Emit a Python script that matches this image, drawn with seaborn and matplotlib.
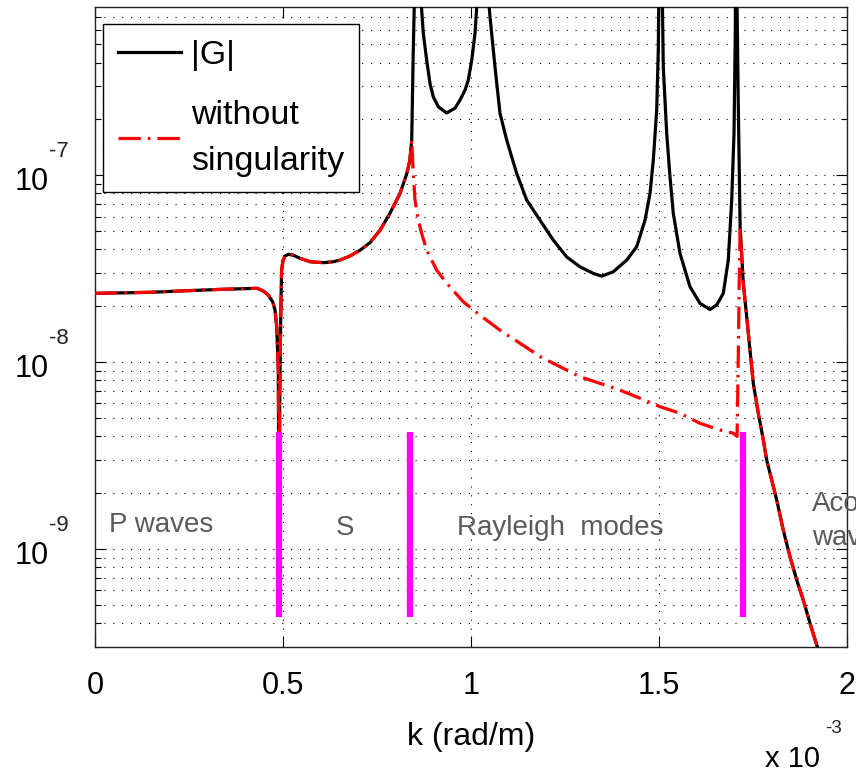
import numpy as np
import pandas as pd
import matplotlib
matplotlib.use("Agg")
import matplotlib.pyplot as plt
import seaborn as sns
from matplotlib.transforms import offset_copy
from matplotlib.ticker import LogLocator, NullFormatter, FixedLocator

# ---------------- data (k in 1e-3 rad/m) ----------------
# part shared by |G| and the curve without singularity
k_common = [0.000, 0.146, 0.250, 0.340, 0.431, 0.4475, 0.4607, 0.4724, 0.4785, 0.4831,
            0.4873, 0.4895, 0.491, 0.4935, 0.496, 0.500, 0.505, 0.514, 0.527, 0.545,
            0.572, 0.607, 0.634, 0.651, 0.678, 0.705, 0.731, 0.758, 0.784, 0.811,
            0.829, 0.837, 0.842]
v_common = [2.33e-8, 2.36e-8, 2.41e-8, 2.45e-8, 2.48e-8, 2.40e-8, 2.28e-8, 2.10e-8, 1.90e-8, 1.55e-8,
            9.06e-9, 1.0e-9, 6.0e-9, 1.6e-8, 3.1e-8, 3.5e-8, 3.69e-8, 3.77e-8, 3.73e-8, 3.59e-8,
            3.44e-8, 3.40e-8, 3.44e-8, 3.51e-8, 3.69e-8, 3.97e-8, 4.35e-8, 5.08e-8, 6.24e-8, 7.98e-8,
            1.02e-7, 1.20e-7, 1.54e-7]

# |G| between the first peak and k = 1.715
k_G_mid = [0.846, 0.851, 0.857, 0.863, 0.8685, 0.8728, 0.8818, 0.8906, 0.8994, 0.9127,
           0.935, 0.9571, 0.9704, 0.9837, 0.9924, 1.0015, 1.0103, 1.018, 1.024, 1.031,
           1.038, 1.044, 1.0501, 1.0634, 1.0767, 1.0945, 1.1211, 1.1477, 1.183, 1.2184,
           1.254, 1.2894, 1.3247, 1.3471, 1.3779, 1.4135, 1.4401, 1.4622, 1.4755, 1.4842,
           1.4933, 1.4975, 1.503, 1.5108, 1.5199, 1.5286, 1.5374, 1.5552, 1.5818, 1.6084,
           1.635, 1.6528, 1.6703, 1.6836, 1.6927, 1.6988, 1.7022, 1.7045, 1.707, 1.710]
G_mid = [4.5e-7, 1.3e-6, 5e-6, 1.5e-6, 7.62e-7, 5.73e-7, 4.12e-7, 3.09e-7, 2.62e-7, 2.32e-7,
         2.15e-7, 2.28e-7, 2.52e-7, 2.85e-7, 3.22e-7, 4.12e-7, 5.73e-7, 1.0e-6, 2.5e-6, 5e-6,
         2.5e-6, 1.0e-6, 7.03e-7, 3.79e-7, 2.14e-7, 1.54e-7, 1.02e-7, 7.35e-8, 5.74e-8, 4.49e-8,
         3.65e-8, 3.23e-8, 2.98e-8, 2.88e-8, 3.04e-8, 3.51e-8, 4.14e-8, 5.74e-8, 7.98e-8, 1.20e-7,
         2.23e-7, 4.66e-7, 5e-6, 3.79e-7, 1.67e-7, 9.80e-8, 6.24e-8, 3.81e-8, 2.53e-8, 2.06e-8,
         1.91e-8, 2.02e-8, 2.33e-8, 3.51e-8, 7.35e-8, 1.67e-7, 5.73e-7, 5e-6, 8e-7, 2.52e-7]

# curve without singularity between k = 0.842 and k = 1.715
k_ns_mid = [0.8462, 0.8507, 0.8595, 0.8685, 0.8818, 0.9084, 0.935, 0.9791, 1.0235, 1.0767,
            1.1299, 1.183, 1.2362, 1.2894, 1.3425, 1.3957, 1.4489, 1.502, 1.5552, 1.6084,
            1.6615, 1.6969, 1.707, 1.710, 1.7125]
ns_mid = [1.02e-7, 7.35e-8, 5.74e-8, 4.87e-8, 3.97e-8, 3.10e-8, 2.64e-8, 2.10e-8, 1.78e-8, 1.48e-8,
          1.26e-8, 1.07e-8, 9.44e-9, 8.34e-9, 7.69e-9, 7.08e-9, 6.40e-9, 5.77e-9, 5.32e-9, 4.70e-9,
          4.33e-9, 4.16e-9, 4.0e-9, 1.0e-8, 2.5e-8]

# shared tail (acoustic region)
k_tail = [1.715, 1.7235, 1.7325, 1.7413, 1.7501, 1.7634, 1.7767, 1.7857, 1.799, 1.8123,
          1.8298, 1.8476, 1.8654, 1.883, 1.9008, 1.9186, 1.935]
v_tail = [5.3e-8, 2.64e-8, 1.75e-8, 1.16e-8, 7.69e-9, 5.32e-9, 3.83e-9, 2.99e-9, 2.34e-9, 1.83e-9,
          1.26e-9, 9.10e-10, 6.83e-10, 5.33e-10, 4.01e-10, 3.07e-10, 2.5e-10]

k_G = k_common + k_G_mid + k_tail
G = v_common + G_mid + v_tail
k_ns = k_common + k_ns_mid + k_tail
ns = v_common + ns_mid + v_tail

boundaries_k = [0.489, 0.837, 1.722]
bar_low, bar_high = 4.3e-10, 4.2e-9

region_labels = ["P waves", "S", "Rayleigh  modes", "Acoustic", "waves"]
region_k = [0.037, 0.641, 0.962, 1.906, 1.906]
region_v = [1.23e-9, 1.19e-9, 1.19e-9, 1.6e-9, 1.05e-9]

xticks = [0, 0.5, 1, 1.5, 2]
xtick_labels = ["0", "0.5", "1", "1.5", "2"]
ytick_vals = [1e-9, 1e-8, 1e-7]
ytick_exp = ["-9", "-8", "-7"]

series_G = "|G|"
series_ns = "without\nsingularity"

# ---------------- figure ----------------
plt.rcParams["font.family"] = ["Liberation Sans", "DejaVu Sans"]
fig = plt.figure(figsize=(8.56, 7.71), dpi=100)
ax = fig.add_axes([95 / 856, 1 - 646.7 / 771, 752.3 / 856, 639.4 / 771])
ax.set_yscale("log")

df_G = pd.DataFrame({"k": k_G, "v": G})
df_ns = pd.DataFrame({"k": k_ns, "v": ns})

sns.lineplot(data=df_G, x="k", y="v", sort=False, estimator=None, color="black",
             lw=2.3, ax=ax, label=series_G, zorder=3)
sns.lineplot(data=df_ns, x="k", y="v", sort=False, estimator=None, color="#ff0000",
             lw=2.3, ax=ax, label=series_ns, zorder=4)
ax.lines[-1].set_dashes([7, 2.2, 0.8, 2.2])

# region boundaries
ax.vlines(boundaries_k, bar_low, bar_high, colors="#ff00ff", lw=4.5, zorder=5)

# region labels
for lab, kk, vv in zip(region_labels, region_k, region_v):
    ax.text(kk, vv, lab, fontsize=20, color="#5a5a5a", ha="left", va="baseline",
            zorder=6, clip_on=False)

ax.set_xlim(0, 2)
ax.set_ylim(3e-10, 7.9e-7)

ax.set_xticks(xticks)
ax.set_xticklabels(xtick_labels, fontsize=22)
ax.yaxis.set_major_locator(FixedLocator(ytick_vals))
ax.yaxis.set_minor_locator(LogLocator(base=10, subs=np.arange(2, 10), numticks=100))
ax.yaxis.set_major_formatter(NullFormatter())
ax.yaxis.set_minor_formatter(NullFormatter())

ax.tick_params(which="both", direction="in", top=True, right=True, width=0.8, colors="black")
ax.tick_params(which="major", length=8, pad=17.5)
ax.tick_params(which="minor", length=4)

ax.grid(which="major", axis="both", color="black", lw=0.8, ls=(0, (1, 7)))
ax.grid(which="minor", axis="y", color="black", lw=0.8, ls=(0, (1, 7)))
ax.set_axisbelow(True)
for s in ax.spines.values():
    s.set_color("#222222")
    s.set_linewidth(1.0)

# y tick labels as 10^n
tr_base = offset_copy(ax.get_yaxis_transform(), fig=fig, x=0, y=-15, units="dots")
tr_exp = offset_copy(ax.get_yaxis_transform(), fig=fig, x=0, y=18, units="dots")
for yv, ex in zip(ytick_vals, ytick_exp):
    ax.text(-0.062, yv, "10", transform=tr_base, ha="right", va="baseline",
            fontsize=22, color="black", clip_on=False)
    ax.text(-0.0605, yv, ex, transform=tr_exp, ha="left", va="baseline",
            fontsize=16, color="#222222", clip_on=False)

# x label and multiplier
ax.set_xlabel("k (rad/m)", fontsize=23)
ax.xaxis.set_label_coords(0.5, -0.1178)
fig.text(792.5 / 856, 4.3 / 771, "x 10", fontsize=21, ha="center", va="baseline")
fig.text(825 / 856, 38 / 771, "-3", fontsize=13.5, ha="left", va="baseline", color="#222222")
ax.set_ylabel("")

# legend
handles, labels = ax.get_legend_handles_labels()
leg = ax.legend(handles, labels, loc="upper left", bbox_to_anchor=(0.0106, 0.9734),
                borderaxespad=0, fontsize=24.5, frameon=True, fancybox=False,
                edgecolor="black", framealpha=1, handlelength=1.85, handletextpad=0.28,
                borderpad=0.45, labelspacing=0.85)
leg.get_frame().set_linewidth(1.0)
for t in leg.get_texts():
    t.set_linespacing(1.65)

fig.savefig("out.png", dpi=100)
